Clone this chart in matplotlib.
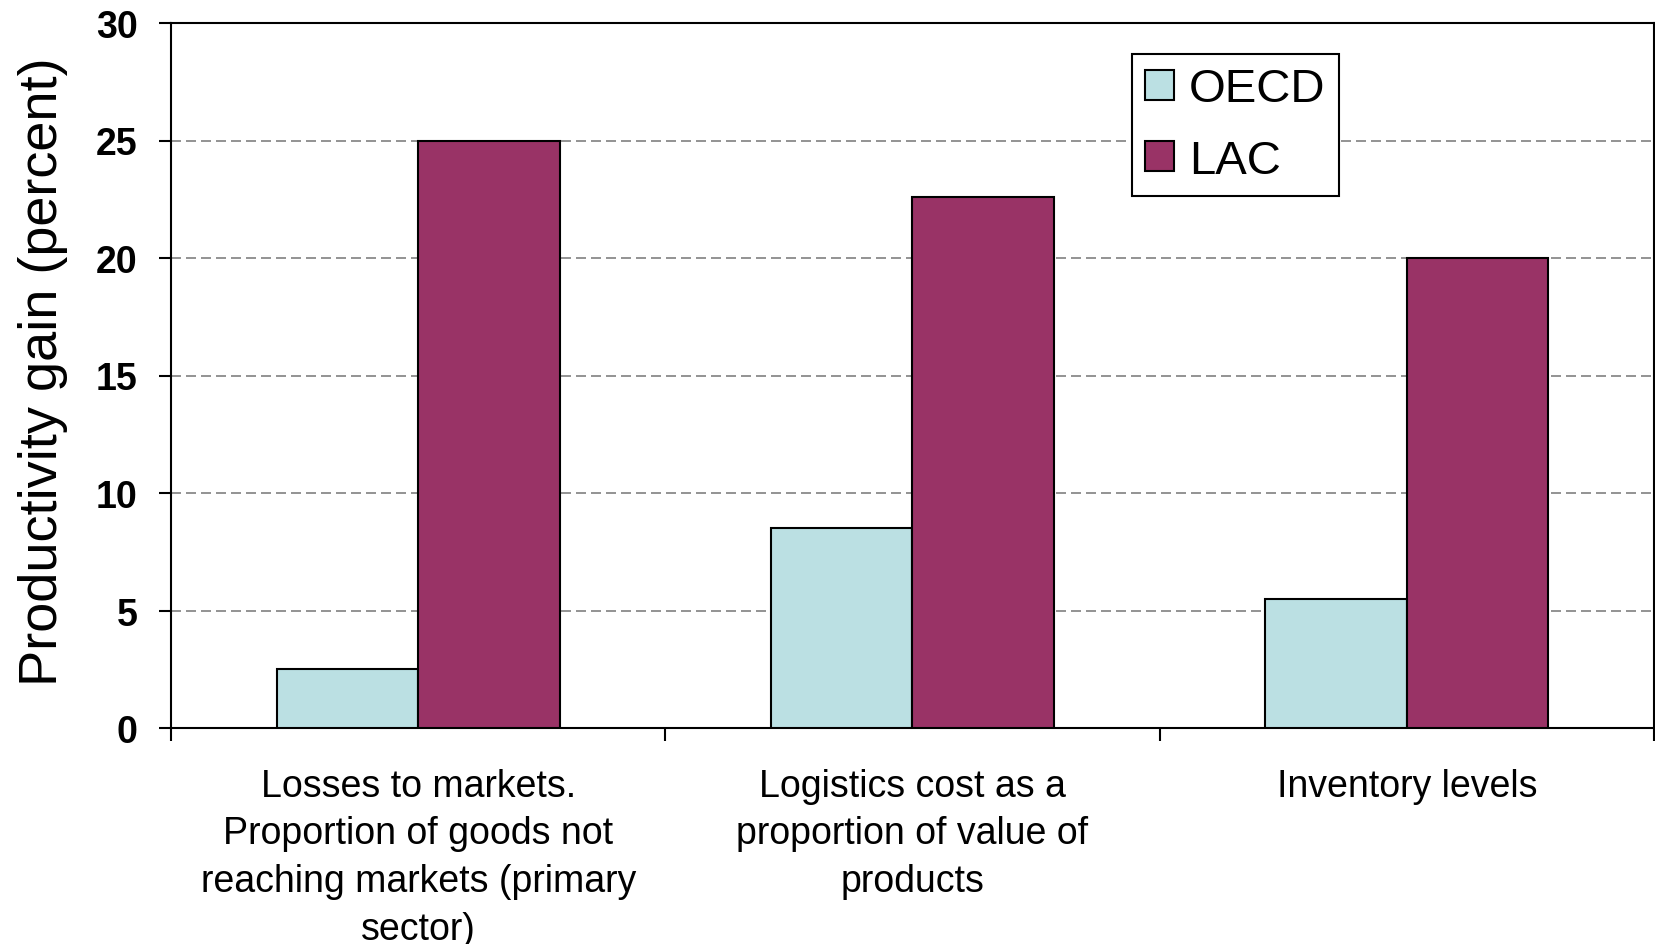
import matplotlib
matplotlib.use("Agg")
import matplotlib.pyplot as plt
import numpy as np
from matplotlib.patches import Patch

categories = ["Losses to markets.\nProportion of goods not\nreaching markets (primary\nsector)",
              "Logistics cost as a\nproportion of value of\nproducts",
              "Inventory levels"]
series_names = ["OECD", "LAC"]
oecd = [2.5, 8.5, 5.5]
lac = [25.0, 22.6, 20.0]
yticks = [0, 5, 10, 15, 20, 25, 30]
ylabel = "Productivity gain (percent)"

colors = ["#BBE0E3", "#993366"]

plt.rcParams['font.family'] = ['Liberation Sans', 'DejaVu Sans']

fig = plt.figure(figsize=(16.56, 9.45), dpi=100)
ax = fig.add_axes([171/1656, 1-729/945, (1654-171)/1656, (729-24)/945])

x = np.arange(len(categories))
w = 0.286
ax.bar(x - w/2, oecd, w, color=colors[0], edgecolor='black', linewidth=1.5, zorder=3)
ax.bar(x + w/2, lac, w, color=colors[1], edgecolor='black', linewidth=1.5, zorder=3)

ax.set_xlim(-0.5, len(categories) - 0.5)
ax.set_ylim(0, 30)
ax.set_yticks(yticks)
ax.set_yticklabels([str(v) for v in yticks], fontsize=27, fontweight='bold')
ax.tick_params(axis='y', direction='out', length=9, width=1.5, pad=15)

ax.set_xticks(x)
ax.set_xticklabels(categories, fontsize=27, linespacing=1.42)
ax.tick_params(axis='x', which='major', length=0, pad=28.5)
ax.set_xticks(np.arange(len(categories) + 1) - 0.5, minor=True)
ax.tick_params(axis='x', which='minor', direction='out', length=9, width=1.5)

for s in ax.spines.values():
    s.set_linewidth(1.5)
    s.set_color('black')

for v in yticks[1:-1]:
    ax.axhline(v, color='#808080', linestyle=(0, (6, 3)), linewidth=1.2, zorder=1)

fig.text(43/1656, 1-372/945, ylabel, rotation=90, ha='center', va='center', fontsize=39)

handles = [Patch(facecolor=colors[i], edgecolor='black', linewidth=1.5) for i in range(2)]
leg = ax.legend(handles, series_names, loc='upper left',
                bbox_to_anchor=(1132/1656, 1-55/945), bbox_transform=fig.transFigure,
                fontsize=34, frameon=True, fancybox=False, framealpha=1,
                handlelength=0.6, handleheight=0.6, handletextpad=0.33,
                borderpad=0.28, labelspacing=0.58, borderaxespad=0)
leg.get_frame().set_edgecolor('black')
leg.get_frame().set_linewidth(1.5)

fig.savefig("out.png", dpi=100)
